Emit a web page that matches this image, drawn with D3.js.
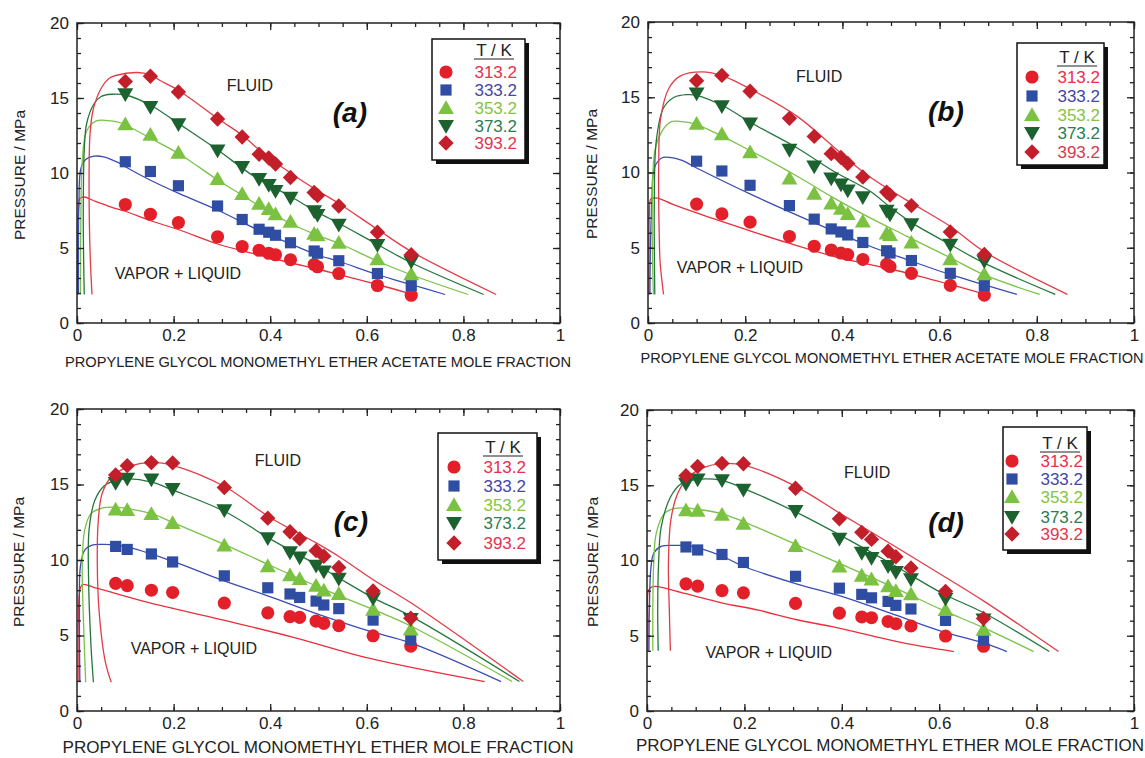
<!DOCTYPE html>
<html><head><meta charset="utf-8">
<script src="https://cdn.jsdelivr.net/npm/d3@7"></script>
<style>
body{margin:0;background:#fff}
svg text{font-family:"Liberation Sans",Arial,Helvetica,sans-serif}
</style>
</head><body>
<svg id="chart" width="1145" height="758"></svg>
<script>
// ---------- categories / ticks ----------
const temps = ["313.2", "333.2", "353.2", "373.2", "393.2"];
const xTicks = [0, 0.2, 0.4, 0.6, 0.8, 1];
const yTicks = [0, 5, 10, 15, 20];
const xTitleAB = "PROPYLENE GLYCOL MONOMETHYL ETHER ACETATE MOLE FRACTION";
const xTitleCD = "PROPYLENE GLYCOL MONOMETHYL ETHER MOLE FRACTION";
const yTitle = "PRESSURE / MPa";

// ---------- experimental data, panels (a),(b) ----------
const xAB = [0.100, 0.152, 0.210, 0.291, 0.342, 0.377, 0.397, 0.411, 0.442, 0.491, 0.498, 0.542, 0.622, 0.692];
const p313AB = [7.9, 7.25, 6.7, 5.75, 5.1, 4.85, 4.65, 4.55, 4.22, 3.9, 3.75, 3.3, 2.5, 1.85];
const p333AB = [10.75, 10.1, 9.15, 7.8, 6.9, 6.25, 6.05, 5.85, 5.35, 4.8, 4.65, 4.15, 3.3, 2.5];
const p353AB = [13.25, 12.55, 11.35, 9.6, 8.6, 7.95, 7.6, 7.25, 6.75, 5.95, 5.85, 5.35, 4.25, 3.25];
const p373AB = [15.25, 14.4, 13.25, 11.5, 10.4, 9.6, 9.2, 8.8, 8.35, 7.45, 7.2, 6.55, 5.2, 4.1];
const p393AB = [16.1, 16.45, 15.4, 13.6, 12.4, 11.25, 11.0, 10.6, 9.7, 8.7, 8.5, 7.8, 6.05, 4.55];

// ---------- experimental data, panels (c),(d) ----------
const xCD = [0.080, 0.104, 0.154, 0.198, 0.305, 0.395, 0.441, 0.461, 0.495, 0.511, 0.542, 0.613, 0.691];
const p313CD = [8.45, 8.3, 8.0, 7.85, 7.15, 6.5, 6.25, 6.2, 5.95, 5.8, 5.65, 4.98, 4.3];
const p333CD = [10.9, 10.7, 10.4, 9.87, 8.95, 8.16, 7.75, 7.52, 7.28, 7.02, 6.78, 6.02, 4.72];
const p353CD = [13.35, 13.32, 13.05, 12.45, 10.97, 9.6, 9.0, 8.75, 8.3, 7.98, 7.76, 6.72, 5.4];
const p373CD = [15.1, 15.38, 15.33, 14.7, 13.29, 11.44, 10.5, 10.16, 9.62, 9.23, 8.75, 7.45, 6.08];
const p393CD = [15.63, 16.25, 16.45, 16.43, 14.8, 12.77, 11.87, 11.4, 10.62, 10.25, 9.5, 7.95, 6.15];

// ---------- model curves [x, P] ----------
const curveA313 = [[0.001,1.9],[0.001,4],[0.002,6],[0.003,7.6],[0.006,8.3],[0.015,8.4],[0.035,8.15],[0.071,7.73],[0.1,7.45],[0.15,6.85],[0.212,6.2],[0.293,5.25],[0.375,4.55],[0.444,4.0],[0.497,3.6],[0.543,3.22],[0.624,2.55],[0.69,1.95]];
const curveA333 = [[0.003,1.9],[0.003,5],[0.004,8],[0.008,10.3],[0.018,10.9],[0.035,11.12],[0.055,11.08],[0.087,10.67],[0.101,10.4],[0.147,9.6],[0.212,8.62],[0.293,7.5],[0.375,6.2],[0.444,5.25],[0.497,4.55],[0.543,4.1],[0.624,3.2],[0.693,2.55],[0.762,1.9]];
const curveA353 = [[0.007,1.9],[0.008,7],[0.011,10.8],[0.02,12.8],[0.04,13.47],[0.07,13.47],[0.09,13.35],[0.101,13.2],[0.155,12.27],[0.212,11.27],[0.293,9.5],[0.343,8.5],[0.375,7.85],[0.444,6.6],[0.497,5.86],[0.543,5.3],[0.624,4.1],[0.693,3.2],[0.81,1.9]];
const curveA373 = [[0.015,1.9],[0.013,7],[0.015,11.5],[0.02,13.3],[0.035,14.6],[0.05,15.1],[0.071,15.25],[0.101,15.2],[0.155,14.47],[0.212,13.26],[0.293,11.5],[0.343,10.3],[0.375,9.6],[0.444,8.4],[0.497,7.4],[0.543,6.63],[0.624,5.2],[0.693,4.0],[0.842,1.9]];
const curveA393 = [[0.031,1.9],[0.027,4.8],[0.025,9.3],[0.027,12.6],[0.034,14.3],[0.051,15.7],[0.066,16.3],[0.08,16.5],[0.125,16.7],[0.151,16.55],[0.173,16.15],[0.212,15.47],[0.293,13.6],[0.343,12.5],[0.375,11.6],[0.444,9.95],[0.497,8.85],[0.543,7.95],[0.624,6.2],[0.693,4.75],[0.868,1.9]];

const curveB313 = [[0.002,1.9],[0.002,5],[0.003,7.5],[0.006,8.25],[0.019,8.3],[0.05,7.9],[0.1,7.31],[0.213,6.09],[0.288,5.32],[0.382,4.43],[0.457,3.88],[0.533,3.32],[0.623,2.55],[0.691,1.93]];
const curveB333 = [[0.004,1.9],[0.005,5],[0.008,8.1],[0.013,10.3],[0.028,10.96],[0.045,11.0],[0.07,10.8],[0.1,10.3],[0.213,8.53],[0.344,6.64],[0.457,5.1],[0.533,4.21],[0.623,3.21],[0.691,2.55],[0.759,1.9]];
const curveB353 = [[0.011,1.9],[0.009,5],[0.009,8.1],[0.014,11.4],[0.028,12.7],[0.047,13.36],[0.07,13.38],[0.1,13.18],[0.213,11.41],[0.307,9.75],[0.382,8.31],[0.457,6.98],[0.533,5.76],[0.623,4.32],[0.691,3.21],[0.806,1.9]];
const curveB373 = [[0.014,1.9],[0.013,5],[0.013,8.1],[0.017,12.1],[0.032,14.3],[0.054,15.0],[0.08,15.17],[0.1,15.13],[0.156,14.4],[0.213,13.29],[0.307,11.63],[0.382,10.08],[0.457,8.75],[0.5,7.65],[0.543,6.65],[0.623,5.2],[0.691,3.99],[0.838,1.9]];
const curveB393 = [[0.032,1.9],[0.025,4],[0.023,6],[0.022,10.3],[0.026,13.6],[0.043,15.6],[0.066,16.4],[0.111,16.68],[0.156,16.39],[0.213,15.5],[0.307,13.73],[0.382,11.7],[0.444,10.0],[0.497,8.85],[0.543,7.95],[0.623,6.4],[0.691,4.76],[0.863,1.9]];

const curveC313 = [[0.004,1.9],[0.004,5],[0.005,7.8],[0.011,8.36],[0.04,8.14],[0.147,7.19],[0.299,6.05],[0.452,4.85],[0.604,3.5],[0.844,1.95]];
const curveC333 = [[0.006,1.9],[0.005,6.5],[0.007,9.56],[0.016,10.66],[0.033,11.0],[0.056,11.03],[0.101,10.88],[0.2,9.89],[0.299,8.68],[0.398,7.59],[0.497,6.43],[0.604,5.3],[0.692,4.5],[0.878,1.95]];
const curveC353 = [[0.018,1.9],[0.014,5.4],[0.011,9.8],[0.016,12],[0.029,13.07],[0.052,13.44],[0.078,13.5],[0.105,13.4],[0.155,13.07],[0.2,12.46],[0.308,10.99],[0.398,9.67],[0.497,8.25],[0.543,7.63],[0.614,6.71],[0.692,5.61],[0.901,1.95]];
const curveC373 = [[0.034,1.9],[0.029,4.3],[0.024,8.7],[0.025,12],[0.037,13.95],[0.056,14.9],[0.078,15.26],[0.105,15.37],[0.155,15.15],[0.2,14.61],[0.308,13.18],[0.398,11.43],[0.497,9.67],[0.543,8.79],[0.614,7.48],[0.692,6.27],[0.916,1.95]];
const curveC393 = [[0.071,1.9],[0.059,3.2],[0.046,6.5],[0.042,9.8],[0.044,12.6],[0.052,14.4],[0.071,15.5],[0.105,16.15],[0.155,16.47],[0.2,16.25],[0.308,14.82],[0.398,12.85],[0.497,11.1],[0.543,10.22],[0.614,8.68],[0.692,7.15],[0.924,1.95]];

const curveD313 = [[0.002,4],[0.002,6],[0.003,8.0],[0.01,8.25],[0.025,8.25],[0.078,7.81],[0.153,7.19],[0.229,6.7],[0.305,6.08],[0.38,5.6],[0.456,5.04],[0.531,4.49],[0.63,3.95]];
const curveD333 = [[0.004,4],[0.005,7],[0.008,9.5],[0.014,10.5],[0.03,10.95],[0.06,11.0],[0.09,10.95],[0.153,10.3],[0.199,9.6],[0.305,8.47],[0.403,7.59],[0.501,6.48],[0.607,5.27],[0.694,4.49],[0.739,3.95]];
const curveD353 = [[0.012,4],[0.012,7],[0.014,10],[0.019,11.8],[0.035,13.1],[0.055,13.45],[0.078,13.5],[0.105,13.4],[0.153,13.12],[0.199,12.57],[0.305,11.08],[0.403,9.69],[0.501,8.3],[0.607,6.7],[0.694,5.49],[0.794,3.95]];
const curveD373 = [[0.023,4],[0.022,7],[0.024,10],[0.029,12.2],[0.048,14.2],[0.07,15.1],[0.1,15.38],[0.153,15.33],[0.199,14.78],[0.305,13.23],[0.403,11.57],[0.501,9.8],[0.607,7.81],[0.694,6.48],[0.826,3.95]];
const curveD393 = [[0.048,4],[0.046,6.5],[0.044,9.8],[0.049,12.7],[0.063,14.45],[0.085,15.55],[0.116,16.17],[0.153,16.44],[0.199,16.33],[0.305,14.93],[0.403,13.0],[0.501,11.1],[0.607,9.0],[0.694,7.25],[0.845,3.95]];

// ---------- styles ----------
const markerColors = ["#e3202a", "#2e4da3", "#7cc242", "#1b622f", "#c21f2b"];
const lineColors   = ["#e8303c", "#3b4cb4", "#78c345", "#24773c", "#e23c48"];
const legendText   = ["#e8304a", "#4446a6", "#86c440", "#2a7d52", "#e0364e"];
const symbolTypes  = [d3.symbolCircle, d3.symbolSquare, d3.symbolTriangle, d3.symbolTriangle, d3.symbolSquare];
const symbolSizes  = [135, 125, 110, 110, 118];
const symbolRot    = [0, 0, 0, 180, 45];

const panels = [
  {id:"a", l:77, r:560, t:23, b:323, xs:xAB, ps:[p313AB,p333AB,p353AB,p373AB,p393AB],
   curves:[curveA313,curveA333,curveA353,curveA373,curveA393], xTitle:xTitleAB, xTitleFs:14.5, xTitleLen:506, xTitleCx:318, xTitleY:367,
   yTitleX:20, yTitleCy:175, lab:[0.565,14.0], fluid:[0.358,15.87], vl:[0.209,3.33],
   legend:{x:432, y:39, w:93, h:121, symX:446, txtX:517, titleY:50, rows:[72,90,108,126,143]}},
  {id:"b", l:648, r:1134, t:22, b:323, xs:xAB, ps:[p313AB,p333AB,p353AB,p373AB,p393AB],
   curves:[curveB313,curveB333,curveB353,curveB373,curveB393], xTitle:xTitleAB, xTitleFs:14.5, xTitleLen:503, xTitleCx:892, xTitleY:363,
   yTitleX:592, yTitleCy:174, lab:[0.613,14.0], fluid:[0.352,16.4], vl:[0.189,3.73],
   legend:{x:1017, y:43, w:87, h:122, symX:1032, txtX:1100, titleY:57, rows:[77,96,115,133,152]}},
  {id:"c", l:77, r:560, t:409, b:711, xs:xCD, ps:[p313CD,p333CD,p353CD,p373CD,p393CD],
   curves:[curveC313,curveC333,curveC353,curveC373,curveC393], xTitle:xTitleCD, xTitleFs:17, xTitleLen:511, xTitleCx:318, xTitleY:753,
   yTitleX:19, yTitleCy:562, lab:[0.567,12.5], fluid:[0.416,16.6], vl:[0.242,4.17],
   legend:{x:438, y:433, w:99, h:127, symX:454, txtX:526, titleY:447, rows:[467,486,505,523,543]}},
  {id:"d", l:647, r:1134, t:410, b:711, xs:xCD, ps:[p313CD,p333CD,p353CD,p373CD,p393CD],
   curves:[curveD313,curveD333,curveD353,curveD373,curveD393], xTitle:xTitleCD, xTitleFs:17, xTitleLen:508, xTitleCx:890, xTitleY:751,
   yTitleX:593, yTitleCy:562, lab:[0.614,12.5], fluid:[0.452,15.9], vl:[0.25,3.93],
   legend:{x:1003, y:427, w:84, h:123, symX:1012, txtX:1083, titleY:443, rows:[461,479,497,517,534]}}
];

const svg = d3.select("#chart");
const fmt = d => String(+d.toFixed(2));

panels.forEach(P => {
  const g = svg.append("g");
  const x = d3.scaleLinear([0, 1], [P.l, P.r]);
  const y = d3.scaleLinear([0, 20], [P.b, P.t]);

  // curves
  const line = d3.line().x(d => x(d[0])).y(d => y(d[1])).curve(d3.curveCatmullRom.alpha(0.5));
  P.curves.forEach((c, i) => {
    g.append("path").attr("d", line(c)).attr("fill", "none")
      .attr("stroke", lineColors[i]).attr("stroke-width", 1.3);
  });

  // markers
  P.ps.forEach((vals, i) => {
    const sym = d3.symbol().type(symbolTypes[i]).size(symbolSizes[i]);
    g.append("g").selectAll("path").data(vals).join("path")
      .attr("d", sym)
      .attr("transform", (v, k) => {
        const cx = x(P.xs[k]), cy = y(v);
        const dy = i === 2 ? 1.5 : (i === 3 ? -1.5 : 0);
        return `translate(${cx},${cy + dy}) rotate(${symbolRot[i]})`;
      })
      .attr("fill", markerColors[i]);
  });

  // axes
  const styleAxis = sel => { sel.select(".domain").remove(); sel.selectAll("line").attr("stroke", "#222").attr("stroke-width", 1.3); };
  const minorX = d3.range(0, 1.0001, 0.05);
  const minorY = d3.range(0, 20.001, 1);

  g.append("g").attr("transform", `translate(0,${P.b})`)
    .call(d3.axisBottom(x).tickValues(minorX).tickSize(-4).tickFormat("")).call(styleAxis);
  g.append("g").attr("transform", `translate(0,${P.t})`)
    .call(d3.axisTop(x).tickValues(minorX).tickSize(-4).tickFormat("")).call(styleAxis);
  g.append("g").attr("transform", `translate(${P.l},0)`)
    .call(d3.axisLeft(y).tickValues(minorY).tickSize(-4).tickFormat("")).call(styleAxis);
  g.append("g").attr("transform", `translate(${P.r},0)`)
    .call(d3.axisRight(y).tickValues(minorY).tickSize(-4).tickFormat("")).call(styleAxis);

  const bx = g.append("g").attr("transform", `translate(0,${P.b})`)
    .call(d3.axisBottom(x).tickValues(xTicks).tickSize(-7).tickPadding(6).tickFormat(fmt)).call(styleAxis);
  bx.selectAll("text").attr("font-size", 17).attr("fill", "#222").attr("font-family", null);
  g.append("g").attr("transform", `translate(0,${P.t})`)
    .call(d3.axisTop(x).tickValues(xTicks).tickSize(-7).tickFormat("")).call(styleAxis);
  const ly = g.append("g").attr("transform", `translate(${P.l},0)`)
    .call(d3.axisLeft(y).tickValues(yTicks).tickSize(-7).tickPadding(8).tickFormat(fmt)).call(styleAxis);
  ly.selectAll("text").attr("font-size", 17).attr("fill", "#222").attr("font-family", null);
  g.append("g").attr("transform", `translate(${P.r},0)`)
    .call(d3.axisRight(y).tickValues(yTicks).tickSize(-7).tickFormat("")).call(styleAxis);

  // frame
  g.append("rect").attr("x", P.l).attr("y", P.t).attr("width", P.r - P.l).attr("height", P.b - P.t)
    .attr("fill", "none").attr("stroke", "#222").attr("stroke-width", 1.5);

  // titles
  g.append("text").attr("x", P.xTitleCx).attr("y", P.xTitleY).attr("text-anchor", "middle")
    .attr("font-size", P.xTitleFs).attr("fill", "#222")
    .attr("textLength", P.xTitleLen).attr("lengthAdjust", "spacingAndGlyphs").text(P.xTitle);
  g.append("text").attr("transform", `translate(${P.yTitleX + 5},${P.yTitleCy}) rotate(-90)`)
    .attr("text-anchor", "middle").attr("font-size", 15.5).attr("fill", "#222").text(yTitle);

  // annotations
  g.append("text").attr("x", x(P.lab[0])).attr("y", y(P.lab[1]) + 9).attr("text-anchor", "middle")
    .attr("font-size", 28).attr("font-weight", "bold").attr("font-style", "italic").attr("fill", "#111")
    .text(`(${P.id})`);
  g.append("text").attr("x", x(P.fluid[0])).attr("y", y(P.fluid[1]) + 6).attr("text-anchor", "middle")
    .attr("font-size", 16).attr("fill", "#222").text("FLUID");
  g.append("text").attr("x", x(P.vl[0])).attr("y", y(P.vl[1]) + 6).attr("text-anchor", "middle")
    .attr("font-size", 16).attr("fill", "#222").text("VAPOR + LIQUID");

  // legend
  const L = P.legend;
  const lg = svg.append("g");
  lg.append("rect").attr("x", L.x + 4).attr("y", L.y + 4).attr("width", L.w).attr("height", L.h).attr("fill", "#111");
  lg.append("rect").attr("x", L.x).attr("y", L.y).attr("width", L.w).attr("height", L.h)
    .attr("fill", "#fff").attr("stroke", "#111").attr("stroke-width", 1.5);
  lg.append("text").attr("x", L.txtX - 23).attr("y", L.titleY + 6).attr("text-anchor", "middle")
    .attr("font-size", 17).attr("fill", "#222").text("T / K");
  lg.append("line").attr("x1", L.txtX - 43).attr("x2", L.txtX - 3)
    .attr("y1", L.titleY + 9).attr("y2", L.titleY + 9).attr("stroke", "#222").attr("stroke-width", 1.2);
  temps.forEach((t, i) => {
    const sym = d3.symbol().type(symbolTypes[i]).size(symbolSizes[i]);
    const dy = i === 2 ? 1.5 : (i === 3 ? -1.5 : 0);
    lg.append("path").attr("d", sym)
      .attr("transform", `translate(${L.symX},${L.rows[i] + dy}) rotate(${symbolRot[i]})`)
      .attr("fill", markerColors[i]);
    lg.append("text").attr("x", L.txtX).attr("y", L.rows[i] + 6).attr("text-anchor", "end")
      .attr("font-size", 17).attr("fill", legendText[i]).text(t);
  });
});
</script>
</body></html>
